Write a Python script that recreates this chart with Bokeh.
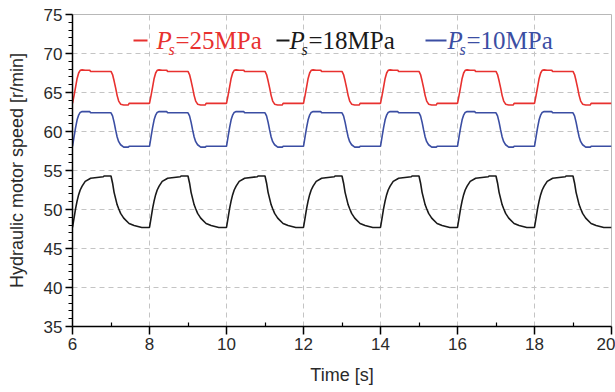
from bokeh.plotting import figure
from bokeh.models import Range1d, Label, BoxAnnotation, FixedTicker
from bokeh.embed import file_html
from bokeh.resources import INLINE

# ---------------- data ----------------
cycle_starts = [6, 8, 10, 12, 14, 16, 18]          # s, start of each 2 s cycle
end_time = 20
cycle_offsets = [0.00, 0.04, 0.08, 0.12, 0.16, 0.20, 0.25, 0.33, 0.45, 0.47,
                 0.80, 0.82, 1.00, 1.04, 1.08, 1.12, 1.16, 1.20, 1.25, 1.33,
                 1.45, 1.47, 1.60, 1.80]
speed_25MPa = [63.6, 64.6, 65.7, 66.8, 67.5, 67.85, 67.9, 67.85, 67.85, 67.7,
               67.7, 67.7, 67.7, 67.3, 66.5, 65.6, 64.6, 63.9, 63.5, 63.4,
               63.4, 63.6, 63.6, 63.6]
speed_10MPa = [58.1, 59.3, 60.5, 61.5, 62.1, 62.45, 62.55, 62.55, 62.55, 62.4,
               62.4, 62.4, 62.4, 62.0, 61.2, 60.2, 59.3, 58.7, 58.3, 58.0,
               58.0, 58.1, 58.1, 58.1]
speed_18MPa = [47.7, 48.9, 50.1, 51.1, 51.9, 52.5, 53.0, 53.6, 53.95, 54.0,
               54.2, 54.3, 54.3, 53.4, 52.2, 51.4, 50.6, 50.1, 49.5, 48.9,
               48.3, 48.2, 47.95, 47.7]
x_ticks = [6, 8, 10, 12, 14, 16, 18, 20]
y_ticks = [35, 40, 45, 50, 55, 60, 65, 70, 75]
legend_labels = ["=25MPa", "=18MPa", "=10MPa"]


def build(profile):
    t, v = [], []
    for s in cycle_starts:
        for o, val in zip(cycle_offsets, profile):
            t.append(s + o)
            v.append(val)
    t.append(end_time)
    v.append(profile[0])
    return t, v


RED, BLACK, BLUE = "#e8312f", "#1a1a1a", "#3b4ea3"

p = figure(width=615, height=392, output_backend="svg", toolbar_location=None,
           x_range=Range1d(6, 20), y_range=Range1d(35, 75),
           min_border_left=72, min_border_right=4, min_border_top=14,
           min_border_bottom=66)
p.background_fill_color = "white"
p.border_fill_color = "white"
p.outline_line_color = "#b8b8b8"
p.outline_line_width = 1

for prof, col in [(speed_25MPa, RED), (speed_18MPa, BLACK), (speed_10MPa, BLUE)]:
    t, v = build(prof)
    p.line(t, v, line_color=col, line_width=1.6)

# axes
p.xaxis.ticker = FixedTicker(ticks=x_ticks, minor_ticks=[x + 1 for x in x_ticks[:-1]])
p.yaxis.ticker = FixedTicker(ticks=y_ticks,
                             minor_ticks=[y for y in range(35, 76) if y % 5])
for ax in (p.xaxis, p.yaxis):
    ax.axis_line_color = "black"
    ax.axis_line_width = 1.5
    ax.major_tick_line_color = "black"
    ax.major_tick_line_width = 1.5
    ax.minor_tick_line_color = "black"
    ax.minor_tick_line_width = 1.2
    ax.major_label_text_font = "Liberation Sans"
    ax.major_label_text_font_size = "17px"
    ax.major_label_text_color = "#2a2a2a"
    ax.axis_label_text_font = "Liberation Sans"
    ax.axis_label_text_font_size = "18px"
    ax.axis_label_text_font_style = "normal"
    ax.axis_label_text_color = "#2a2a2a"

p.xaxis.major_tick_out = 8
p.xaxis.major_tick_in = 0
p.xaxis.minor_tick_in = 4
p.xaxis.minor_tick_out = 0
p.xaxis.major_label_standoff = 3
p.xaxis.axis_label = "Time [s]"
p.xaxis.axis_label_standoff = 12

p.yaxis.major_tick_out = 7
p.yaxis.major_tick_in = 0
p.yaxis.minor_tick_out = 4
p.yaxis.minor_tick_in = 0
p.yaxis.major_label_standoff = 3
p.yaxis.axis_label = "Hydraulic motor speed [r/min]"
p.yaxis.axis_label_standoff = 14

# grid
for g in (p.xgrid, p.ygrid):
    g.grid_line_color = "#c4c4c4"
    g.grid_line_dash = "5 4"
    g.grid_line_width = 1
p.xgrid.ticker = FixedTicker(ticks=x_ticks)
p.ygrid.ticker = FixedTicker(ticks=y_ticks)


# ---------------- legend (custom, with italic subscript) ----------------
def tx(px):
    return 6 + (px - 72) / 38.5


def ty(py):
    return 75 - (py - 14) / 7.8


legend_layout = [
    # (line_left, line_right, P_x, label, color)
    (133, 147, 156, legend_labels[0], RED),
    (276, 289, 289, legend_labels[1], BLACK),
    (425, 446, 447, legend_labels[2], BLUE),
]
for l0, l1, px, lab, col in legend_layout:
    p.add_layout(BoxAnnotation(left=tx(l0), right=tx(l1), bottom=ty(41), top=ty(39),
                               fill_color=col, fill_alpha=1, line_alpha=0))
    p.add_layout(Label(x=tx(px), y=ty(40), text="P", text_font="Liberation Serif",
                       text_font_style="italic", text_font_size="25px", text_color=col,
                       text_baseline="alphabetic", text_align="left"))
    p.add_layout(Label(x=tx(px + 12), y=ty(49), text="s", text_font="Liberation Serif",
                       text_font_style="italic", text_font_size="16px", text_color=col,
                       text_baseline="alphabetic", text_align="left"))
    p.add_layout(Label(x=tx(px + 19), y=ty(40), text=lab, text_font="Liberation Serif",
                       text_font_size="25px", text_color=col,
                       text_baseline="alphabetic", text_align="left"))

open("out.html", "w").write(file_html(p, INLINE))
